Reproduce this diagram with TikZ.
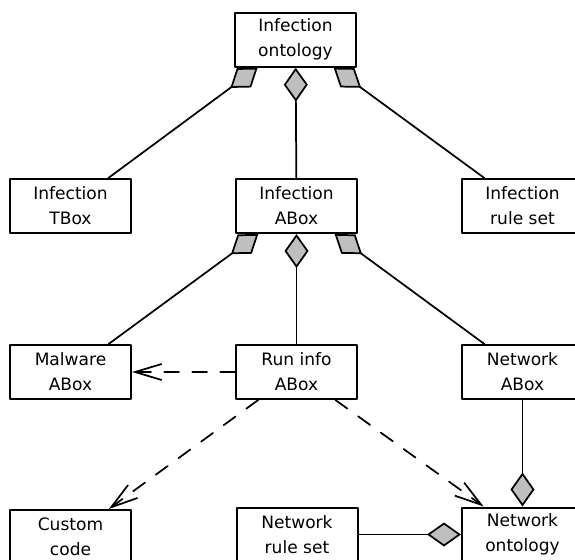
\documentclass[tikz,border=0pt]{standalone}
\usepackage{xcolor}
\usepackage{fontspec}
\setmainfont{DejaVu Sans}
\usepackage{tikz}
\usetikzlibrary{arrows.meta}
\definecolor{dgray}{rgb}{0.75,0.75,0.75}

\begin{document}
\begin{tikzpicture}[line cap=round,line join=round,x=0.75pt,y=-0.75pt,
  box/.style={draw,line width=1.5pt,fill=white,minimum width=90.75pt,minimum height=40.5pt,inner sep=0pt,align=center,font=\fontsize{12.8}{18.75}\selectfont},
  comp/.style={line width=1.3pt,-{Diamond[fill=dgray,length=25.5pt,width=18pt]}},
  dep/.style={line width=1.3pt,dash pattern=on 11pt off 10pt,-{Straight Barb[length=20pt,width=12pt]}}]
\useasboundingbox (0,0) rectangle (575,560);
\clip (0,0) rectangle (575,560);
% boxes
\node[box] (onto) at (295.5,39.7) {Infection\\ontology};
\node[box] (tbox) at (70.5,206) {Infection\\TBox};
\node[box] (iabox) at (296.5,206) {Infection\\ABox};
\node[box] (irule) at (522.5,206) {Infection\\rule set};
\node[box] (mabox) at (70.5,372) {Malware\\ABox};
\node[box] (run) at (296.5,372) {Run info\\ABox};
\node[box] (nabox) at (522.5,372) {Network\\ABox};
\node[box] (custom) at (70.5,537) {Custom\\code};
\node[box] (nrule) at (297,534.5) {Network\\rule set};
\node[box] (nonto) at (522.5,534.5) {Network\\ontology};
% composition
\draw[comp] (tbox) -- (onto);
\draw[comp] (iabox) -- (onto);
\draw[comp] (irule) -- (onto);
\draw[comp] (mabox) -- (iabox);
\draw[comp] (run) -- (iabox);
\draw[comp] (nabox) -- (iabox);
\draw[comp] (nabox) -- (nonto);
\draw[comp] (nrule) -- (nonto);
% dependencies
\draw[dep] (run) -- (mabox);
\draw[dep] (run) -- (custom);
\draw[dep] (run) -- (nonto);
\end{tikzpicture}
\end{document}
